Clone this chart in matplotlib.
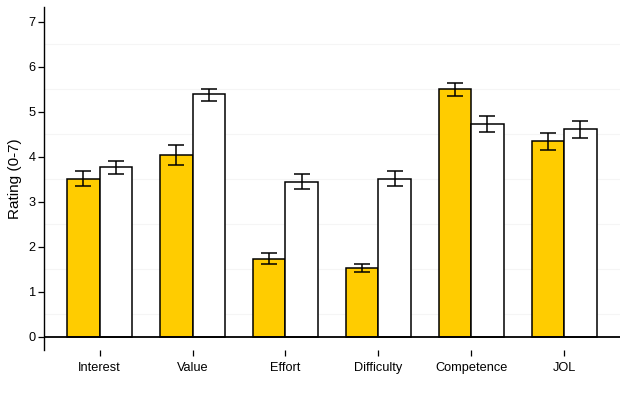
import matplotlib
matplotlib.use("Agg")
import matplotlib.pyplot as plt
import numpy as np

plt.rcParams["font.family"] = ["Liberation Sans", "DejaVu Sans"]

# data
categories = ["Interest", "Value", "Effort", "Difficulty", "Competence", "JOL"]
yellow_mean = [3.52, 4.04, 1.74, 1.53, 5.50, 4.35]
yellow_lo = [3.35, 3.82, 1.62, 1.44, 5.35, 4.15]
yellow_hi = [3.68, 4.26, 1.86, 1.62, 5.64, 4.53]
white_mean = [3.77, 5.39, 3.44, 3.52, 4.73, 4.62]
white_lo = [3.62, 5.24, 3.28, 3.35, 4.56, 4.42]
white_hi = [3.92, 5.52, 3.61, 3.68, 4.90, 4.79]

YELLOW = "#FFCC00"
BAR_W = 0.35

fig = plt.figure(figsize=(6.35, 3.95), dpi=100)
ax = fig.add_axes([0.0693, 0.114, 0.9067, 0.868])

x = np.arange(1, len(categories) + 1)


def draw_series(pos, mean, lo, hi, color):
    mean = np.array(mean)
    err = [mean - np.array(lo), np.array(hi) - mean]
    ax.bar(pos, mean, width=BAR_W, color=color, edgecolor="black",
           linewidth=1.1, zorder=2)
    ax.errorbar(pos, mean, yerr=err, fmt="none", ecolor="black",
                elinewidth=1.1, capsize=5.5, capthick=1.1, zorder=3)


draw_series(x - BAR_W / 2, yellow_mean, yellow_lo, yellow_hi, YELLOW)
draw_series(x + BAR_W / 2, white_mean, white_lo, white_hi, "white")

ax.axhline(0, color="black", linewidth=1.3, zorder=4)

# faint minor grid at the half steps, like the ggplot theme
for yv in np.arange(0.5, 7.0, 1.0):
    ax.axhline(yv, color="#f5f5f5", linewidth=0.8, zorder=0)

ax.set_xlim(0.4, 6.6)
ax.set_ylim(-0.29, 7.33)
ax.set_yticks(range(0, 8))
ax.set_xticks(x)
ax.set_xticklabels(categories)
ax.tick_params(axis="both", labelsize=9.2, colors="black", length=4,
               width=0.9, pad=2)
ax.tick_params(axis="x", pad=5)
ax.set_ylabel("Rating (0-7)", fontsize=11, labelpad=5)

for sp in ("top", "right", "bottom"):
    ax.spines[sp].set_visible(False)
ax.spines["left"].set_linewidth(1.0)

fig.savefig("out.png", dpi=100, facecolor="white")
